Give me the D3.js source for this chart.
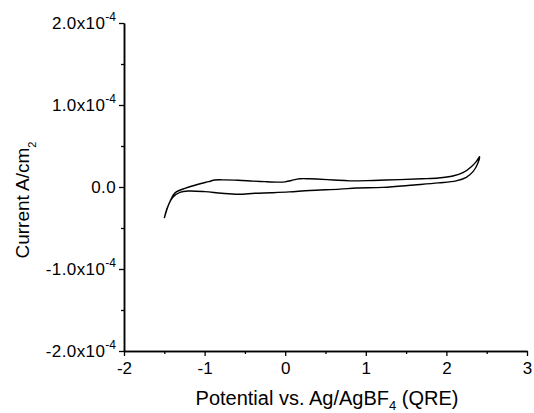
<!DOCTYPE html>
<html>
<head>
<meta charset="utf-8">
<script src="https://cdn.jsdelivr.net/npm/d3@7"></script>
<style>
  html, body { margin: 0; padding: 0; background: #fff; }
  svg { display: block; }
  text { font-family: "Liberation Sans", Arial, sans-serif; fill: #000; }
</style>
</head>
<body>
<svg id="chart" width="534" height="413"></svg>
<script>
// ---- data (potential in V, current in A/cm^2) ----
const forwardPotential = [-1.50, -1.47, -1.43, -1.39, -1.347, -1.244, -1.079, -0.95, -0.872, -0.75, -0.584, -0.40, -0.253, -0.10, -0.005, 0.078, 0.18, 0.30, 0.388, 0.60, 0.801, 1.089, 1.42, 1.70, 1.90, 2.08, 2.205, 2.309, 2.37, 2.411];
const forwardCurrent   = [-0.38e-4, -0.27e-4, -0.18e-4, -0.10e-4, -0.057e-4, -0.016e-4, 0.033e-4, 0.065e-4, 0.085e-4, 0.087e-4, 0.082e-4, 0.072e-4, 0.065e-4, 0.060e-4, 0.062e-4, 0.080e-4, 0.100e-4, 0.100e-4, 0.097e-4, 0.085e-4, 0.075e-4, 0.080e-4, 0.090e-4, 0.100e-4, 0.110e-4, 0.134e-4, 0.174e-4, 0.248e-4, 0.31e-4, 0.37e-4];
const reversePotential = [2.39, 2.33, 2.247, 2.12, 1.90, 1.60, 1.213, 0.883, 0.677, 0.305, 0.05, -0.17, -0.377, -0.584, -0.789, -0.996, -1.203, -1.306, -1.389, -1.44, -1.50];
const reverseCurrent   = [0.29e-4, 0.187e-4, 0.118e-4, 0.075e-4, 0.050e-4, 0.025e-4, -0.005e-4, -0.012e-4, -0.026e-4, -0.042e-4, -0.060e-4, -0.070e-4, -0.077e-4, -0.089e-4, -0.077e-4, -0.057e-4, -0.049e-4, -0.065e-4, -0.118e-4, -0.20e-4, -0.38e-4];

const xMajorTicks = [-2, -1, 0, 1, 2, 3];
const xMinorTicks = [-1.5, -0.5, 0.5, 1.5, 2.5];
const xTickLabels = ["-2", "-1", "0", "1", "2", "3"];
const yMajorTicks = [-2e-4, -1e-4, 0, 1e-4, 2e-4];
const yMinorTicks = [-1.5e-4, -0.5e-4, 0.5e-4, 1.5e-4];
const yTickMantissa = ["-2.0x10", "-1.0x10", "0.0", "1.0x10", "2.0x10"];
const yTickExponent = ["-4", "-4", "", "-4", "-4"];

// ---- layout ----
const svg = d3.select("#chart");
const x = d3.scaleLinear().domain([-2, 3]).range([124, 527]);
const y = d3.scaleLinear().domain([-2e-4, 2e-4]).range([351, 23]);

const axisStyle = g => {
  g.select(".domain").attr("stroke", "#000").attr("stroke-width", 1.5);
  g.selectAll(".tick line").attr("stroke", "#000").attr("stroke-width", 1.3);
};

svg.append("g").attr("transform", `translate(0,${y(-2e-4)})`)
  .call(d3.axisBottom(x).tickValues(xMinorTicks).tickSize(3).tickSizeOuter(0).tickFormat(""))
  .call(axisStyle);
svg.append("g").attr("transform", `translate(0,${y(-2e-4)})`)
  .call(d3.axisBottom(x).tickValues(xMajorTicks).tickSize(5).tickSizeOuter(0).tickFormat((d, i) => xTickLabels[i]))
  .call(axisStyle)
  .call(g => g.selectAll(".tick text").attr("font-size", 17).attr("dy", "0.9em")
        .style("font-family", "'Liberation Sans', Arial, sans-serif").attr("fill", "#000"));

svg.append("g").attr("transform", `translate(${x(-2)},0)`)
  .call(d3.axisLeft(y).tickValues(yMinorTicks).tickSize(3).tickSizeOuter(0).tickFormat(""))
  .call(axisStyle);
svg.append("g").attr("transform", `translate(${x(-2)},0)`)
  .call(d3.axisLeft(y).tickValues(yMajorTicks).tickSize(5).tickSizeOuter(0).tickFormat(""))
  .call(axisStyle);

// y tick labels with superscripts
const yl = svg.append("g");
yMajorTicks.forEach((v, i) => {
  const t = yl.append("text")
    .attr("x", x(-2) - 8)
    .attr("y", y(v) + 6)
    .attr("text-anchor", "end")
    .attr("font-size", 17)
    .attr("letter-spacing", 0.4);
  t.append("tspan").text(yTickMantissa[i]);
  if (yTickExponent[i]) {
    t.append("tspan").attr("font-size", 12).attr("dy", -8).attr("letter-spacing", 0).text(yTickExponent[i]);
  }
});

// axis titles
const xt = svg.append("text")
  .attr("x", 327).attr("y", 405)
  .attr("text-anchor", "middle")
  .attr("font-size", 20);
xt.append("tspan").text("Potential vs. Ag/AgBF");
xt.append("tspan").attr("font-size", 13).attr("dy", 5).text("4");
xt.append("tspan").attr("dy", -5).text(" (QRE)");

const yt = svg.append("text")
  .attr("transform", `translate(29,200) rotate(-90)`)
  .attr("text-anchor", "middle")
  .attr("font-size", 19);
yt.append("tspan").text("Current A/cm");
yt.append("tspan").attr("font-size", 11).attr("dy", 7).text("2");

// ---- curve ----
const pts = forwardPotential.map((p, i) => [p, forwardCurrent[i]])
  .concat(reversePotential.map((p, i) => [p, reverseCurrent[i]]));
const line = d3.line()
  .x(d => x(d[0]))
  .y(d => y(d[1]))
  .curve(d3.curveCatmullRom.alpha(0.5));
svg.append("path")
  .datum(pts)
  .attr("d", line)
  .attr("fill", "none")
  .attr("stroke", "#000")
  .attr("stroke-width", 1.4)
  .attr("stroke-linejoin", "round");
</script>
</body>
</html>
